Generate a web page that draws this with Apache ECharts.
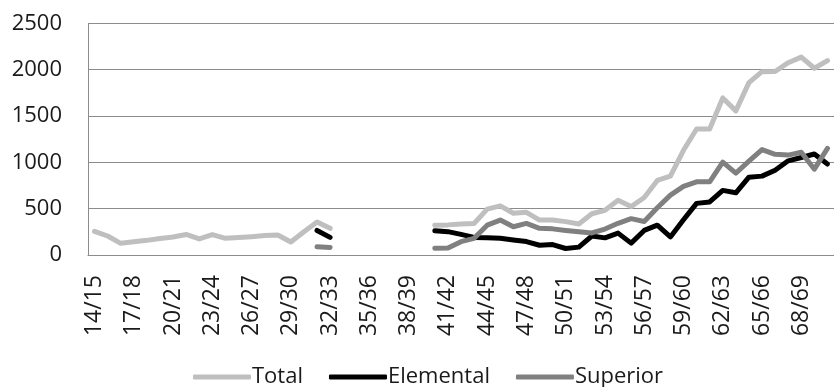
<!DOCTYPE html>
<html>
<head>
<meta charset="utf-8">
<script src="https://cdn.jsdelivr.net/npm/echarts@6/dist/echarts.min.js"></script>
<style>
  html, body { margin: 0; padding: 0; background: #ffffff; }
  #chart { width: 834px; height: 387px; }
</style>
</head>
<body>
<div id="chart"></div>
<script>
// Season labels (academic years)
const categories = [
  '14/15','15/16','16/17','17/18','18/19','19/20','20/21','21/22','22/23','23/24',
  '24/25','25/26','26/27','27/28','28/29','29/30','30/31','31/32','32/33','33/34',
  '34/35','35/36','36/37','37/38','38/39','39/40','40/41','41/42','42/43','43/44',
  '44/45','45/46','46/47','47/48','48/49','49/50','50/51','51/52','52/53','53/54',
  '54/55','55/56','56/57','57/58','58/59','59/60','60/61','61/62','62/63','63/64',
  '64/65','65/66','66/67','67/68','68/69','69/70','70/71'
];

// Missing years are left as null so the lines break there
const totalValues = [
  255, 205, 126, 144, 158, 178, 195, 222, 174, 220,
  180, 188, 198, 210, 215, 140, 250, 355, 288, null,
  null, null, null, null, null, null, 320, 325, 335, 340,
  495, 530, 450, 460, 377, 377, 360, 335, 445, 482,
  590, 522, 620, 805, 850, 1130, 1360, 1360, 1695, 1555,
  1860, 1978, 1980, 2075, 2135, 2015, 2098
];

const elementalValues = [
  null, null, null, null, null, null, null, null, null, null,
  null, null, null, null, null, null, null, 265, 190, null,
  null, null, null, null, null, null, 262, 252, 222, 190,
  185, 180, 162, 145, 105, 112, 70, 85, 205, 185,
  236, 128, 265, 322, 195, 380, 557, 572, 697, 671,
  840, 851, 915, 1016, 1052, 1090, 982
];

const superiorValues = [
  null, null, null, null, null, null, null, null, null, null,
  null, null, null, null, null, null, null, 90, 82, null,
  null, null, null, null, null, null, 72, 75, 144, 180,
  322, 377, 305, 341, 288, 282, 265, 250, 238, 280,
  342, 392, 362, 510, 646, 740, 790, 790, 1002, 884,
  1012, 1138, 1086, 1078, 1108, 926, 1150
];

const yTicks = { min: 0, max: 2500, step: 500 };

const FONT = '"Open Sans", "Noto Sans", sans-serif';
const TEXT = '#1a1a1a';

function lineSeries(name, values, color) {
  return {
    name: name,
    type: 'line',
    data: values,
    symbol: 'none',
    connectNulls: false,
    clip: true,
    lineStyle: { color: color, width: 5, cap: 'round', join: 'round' },
    itemStyle: { color: color },
    emphasis: { disabled: true }
  };
}

const chart = echarts.init(document.getElementById('chart'), null, { renderer: 'canvas' });

chart.setOption({
  animation: false,
  backgroundColor: '#ffffff',
  grid: { left: 88, top: 23.3, bottom: 132, right: -12 },
  legend: {
    left: 193,
    top: 365,
    icon: 'roundRect',
    itemWidth: 58,
    itemHeight: 5,
    itemGap: 26,
    padding: 0,
    textStyle: { fontFamily: FONT, fontSize: 22, lineHeight: 24, color: TEXT, padding: [0, 0, 0, -4] },
    data: ['Total', 'Elemental', 'Superior']
  },
  xAxis: {
    type: 'category',
    data: categories,
    boundaryGap: true,
    axisLine: { show: true, lineStyle: { color: '#8c8c8c', width: 1 } },
    axisTick: { show: false },
    axisLabel: {
      interval: 2,
      rotate: 90,
      margin: 20,
      fontFamily: FONT,
      fontSize: 23,
      color: TEXT
    },
    splitLine: { show: false }
  },
  yAxis: {
    type: 'value',
    min: yTicks.min,
    max: yTicks.max,
    interval: yTicks.step,
    axisLine: { show: true, lineStyle: { color: '#8c8c8c', width: 1 } },
    axisTick: { show: false },
    axisLabel: {
      margin: 26,
      fontFamily: FONT,
      fontSize: 22,
      color: TEXT,
      formatter: function (v) { return String(v); }
    },
    splitLine: { show: true, lineStyle: { color: '#8c8c8c', width: 1 } }
  },
  series: [
    lineSeries('Total', totalValues, '#bfbfbf'),
    lineSeries('Elemental', elementalValues, '#000000'),
    lineSeries('Superior', superiorValues, '#808080')
  ]
});
</script>
</body>
</html>
